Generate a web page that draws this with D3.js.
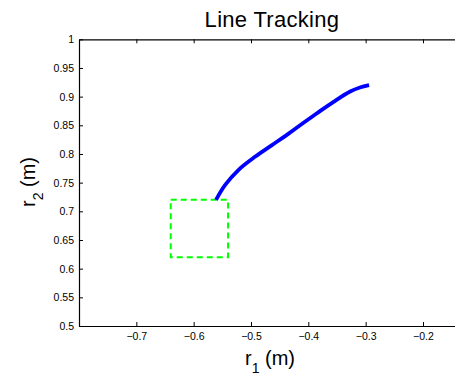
<!DOCTYPE html>
<html>
<head>
<meta charset="utf-8">
<script src="https://cdn.jsdelivr.net/npm/d3@7"></script>
<style>
  body { margin: 0; background: #fff; }
  svg { display: block; font-family: "Liberation Sans", Arial, Helvetica, sans-serif; }
</style>
</head>
<body>
<div id="chart"></div>
<script>
// tracked path (r1, r2) in metres
const pathR1 = [-0.561, -0.545, -0.522, -0.493, -0.464, -0.435, -0.409, -0.385, -0.356, -0.327, -0.310, -0.294];
const pathR2 = [0.720, 0.746, 0.772, 0.795, 0.815, 0.835, 0.854, 0.871, 0.891, 0.909, 0.916, 0.920];
// target box corners
const boxR1 = [-0.64, -0.54];
const boxR2 = [0.62, 0.72];
const xTicks = [-0.7, -0.6, -0.5, -0.4, -0.3, -0.2];
const yTicks = [0.5, 0.55, 0.6, 0.65, 0.7, 0.75, 0.8, 0.85, 0.9, 0.95, 1];

function drawChart(container) {
    const width = 455;
    const height = 375;
    const left = 79, top = 39.3, bottom = 326;
    const unit = 57.33; // px per 0.1

    const x = d3.scaleLinear().domain([-0.8, -0.1]).range([left, left + 7 * unit]);
    const y = d3.scaleLinear().domain([0.5, 1]).range([bottom, top]);

    const svg = d3.select(container).append("svg")
        .attr("width", width)
        .attr("height", height);

    const fmtX = d => d3.format(".1f")(d).replace("-", "\u2212");
    const fmtY = d => String(+d.toFixed(2));

    // bottom axis
    const xAxis = svg.append("g")
        .attr("transform", `translate(0,${bottom})`)
        .call(d3.axisBottom(x).tickValues(xTicks).tickFormat(fmtX)
            .tickSizeInner(-4).tickSizeOuter(0).tickPadding(7));
    // top axis (ticks only)
    const xTop = svg.append("g")
        .attr("transform", `translate(0,${top})`)
        .call(d3.axisTop(x).tickValues(xTicks).tickFormat("")
            .tickSizeInner(-4).tickSizeOuter(0));
    // left axis
    const yAxis = svg.append("g")
        .attr("transform", `translate(${left},0)`)
        .call(d3.axisLeft(y).tickValues(yTicks).tickFormat(fmtY)
            .tickSizeInner(-4).tickSizeOuter(0).tickPadding(5));

    [xAxis, xTop, yAxis].forEach(g => {
        g.selectAll("path.domain").attr("stroke", "#000").attr("stroke-width", 1.2);
        g.selectAll(".tick line").attr("stroke", "#000").attr("stroke-width", 1);
        g.selectAll("text").attr("font-size", 10.5).attr("fill", "#000")
            .attr("font-family", "'Liberation Sans', Arial, sans-serif");
    });

    // target box
    svg.append("rect")
        .attr("x", x(boxR1[0]))
        .attr("y", y(boxR2[1]))
        .attr("width", x(boxR1[1]) - x(boxR1[0]))
        .attr("height", y(boxR2[0]) - y(boxR2[1]))
        .attr("fill", "none")
        .attr("stroke", "#00ff00")
        .attr("stroke-width", 2)
        .attr("stroke-dasharray", "6,4");

    // tracked line
    const pts = pathR1.map((r, i) => [r, pathR2[i]]);
    svg.append("path")
        .datum(pts)
        .attr("fill", "none")
        .attr("stroke", "#0000ff")
        .attr("stroke-width", 3.8)
        .attr("d", d3.line().x(d => x(d[0])).y(d => y(d[1])).curve(d3.curveCatmullRom));

    // title
    svg.append("text")
        .attr("x", 272)
        .attr("y", 27)
        .attr("text-anchor", "middle")
        .attr("font-size", 22)
        .attr("letter-spacing", 0.3)
        .text("Line Tracking");

    // x label
    const xl = svg.append("text")
        .attr("x", 270)
        .attr("y", 365)
        .attr("text-anchor", "middle")
        .attr("font-size", 20);
    xl.append("tspan").text("r");
    xl.append("tspan").attr("font-size", 14).attr("dy", 8).text("1");
    xl.append("tspan").attr("dy", -8).text(" (m)");

    // y label
    const yl = svg.append("text")
        .attr("transform", "translate(35,182) rotate(-90)")
        .attr("text-anchor", "middle")
        .attr("font-size", 20);
    yl.append("tspan").text("r");
    yl.append("tspan").attr("font-size", 14).attr("dy", 8).text("2");
    yl.append("tspan").attr("dy", -8).text(" (m)");
}

drawChart(document.getElementById("chart"));
</script>
</body>
</html>
